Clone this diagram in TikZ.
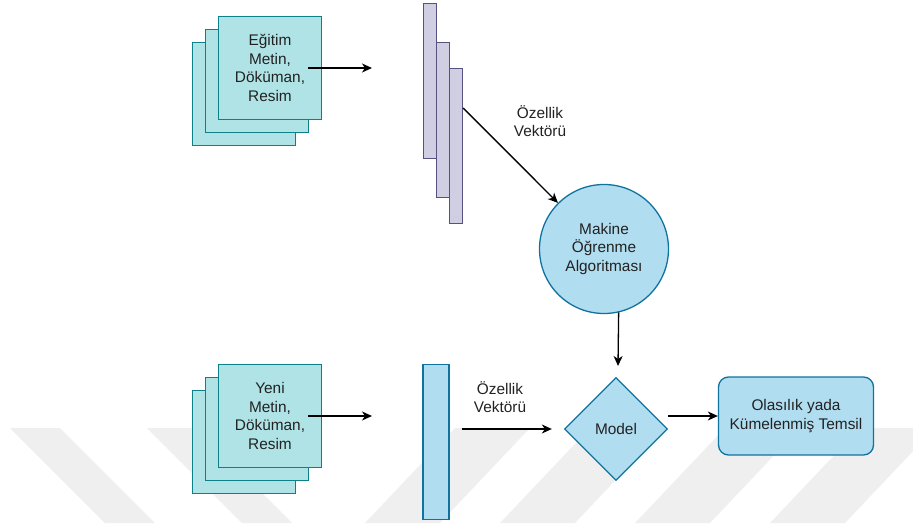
\documentclass[tikz,border=0pt]{standalone}
\usepackage{fontspec}
\setmainfont{Liberation Sans}
\usetikzlibrary{shapes.geometric,arrows.meta}

\definecolor{docfill}{HTML}{B0E3E6}
\definecolor{docline}{HTML}{0E8088}
\definecolor{vecfill}{HTML}{D0CEE2}
\definecolor{vecline}{HTML}{56517E}
\definecolor{bluefill}{HTML}{B1DDF0}
\definecolor{blueline}{HTML}{10739E}
\definecolor{textgray}{HTML}{222222}
\definecolor{wmgray}{HTML}{EFEFEF}

\tikzset{
  txt/.style={font=\fontsize{15.4}{18.5}\selectfont, text=textgray, align=center},
  doc/.style={txt, draw=docline, fill=docfill, line width=1.3pt,
    minimum width=103pt, minimum height=103pt, inner sep=0pt},
  vecbar/.style={draw=vecline, fill=vecfill, line width=1.3pt,
    minimum width=13pt, minimum height=155pt, inner sep=0pt},
  newbar/.style={draw=blueline, fill=bluefill, line width=1.3pt,
    minimum width=26pt, minimum height=155pt, inner sep=0pt},
  algo/.style={txt, circle, draw=blueline, fill=bluefill, line width=1.3pt,
    minimum size=129pt, inner sep=0pt},
  model/.style={txt, diamond, aspect=1, draw=blueline, fill=bluefill, line width=1.3pt,
    minimum width=103pt, minimum height=103pt, inner sep=0pt},
  result/.style={txt, rectangle, rounded corners=10pt, draw=blueline, fill=bluefill,
    line width=1.3pt, minimum width=155pt, minimum height=78pt, inner sep=0pt},
  flow/.style={-{Stealth[length=10pt,width=9pt,inset=3pt]}, line width=1.3pt, black},
  wmark/.style={fill=wmgray}
}

\begin{document}
\begin{tikzpicture}[x=1pt, y=1pt]
  \useasboundingbox (0,0) rectangle (913,523);
  % faint stripes at the bottom
  \begin{scope}
    \clip (0,0) rectangle (913,523);
    \fill[wmark] (10,95) -- (60,95) -- (155,0) -- (105,0) -- cycle;
    \fill[wmark] (147,95) -- (197,95) -- (292,0) -- (242,0) -- cycle;
    \fill[wmark] (455,95) -- (530,95) -- (440,0) -- (365,0) -- cycle;
    \fill[wmark] (590,95) -- (665,95) -- (575,0) -- (500,0) -- cycle;
    \fill[wmark] (725,95) -- (800,95) -- (710,0) -- (635,0) -- cycle;
    \fill[wmark] (860,95) -- (935,95) -- (845,0) -- (770,0) -- cycle;
  \end{scope}
  \draw
    (244,429) node[doc] (train3){}
    (257,442) node[doc] (train2){}
    (270,455) node[doc] (train1){Eğitim\\Metin,\\Döküman,\\Resim}
    (430,442) node[vecbar] (fvec1){}
    (443,403) node[vecbar] (fvec2){}
    (456,377) node[vecbar] (fvec3){}
    (540,402) node[txt] (flabel1){Özellik\\Vektörü}
    (604,274) node[algo] (algo){Makine\\Öğrenme\\Algoritması}
    (244,81) node[doc] (new3){}
    (257,94) node[doc] (new2){}
    (270,107) node[doc] (new1){Yeni\\Metin,\\Döküman,\\Resim}
    (436,81) node[newbar] (nvec){}
    (500,126) node[txt] (flabel2){Özellik\\Vektörü}
    (616,94) node[model] (model){Model}
    (796,107) node[result] (result){Olasılık yada\\Kümelenmiş Temsil};
  \coordinate (trainend) at (372,455);
  \coordinate (newend) at (372,107);
  \coordinate (modelin) at (618,157);
  \begin{scope}[flow]
    \draw ([xshift=-14pt]train1.east) to (trainend);
    \draw ([yshift=38pt]fvec3.east) to (algo);
    \draw (algo.-77.5) to (modelin);
    \draw ([xshift=-14pt]new1.east) to (newend);
    \draw ([xshift=12pt]nvec.east |- model.west) to ([xshift=-12pt]model.west);
    \draw (model.east |- result.west) to (result.west);
  \end{scope}
\end{tikzpicture}
\end{document}
